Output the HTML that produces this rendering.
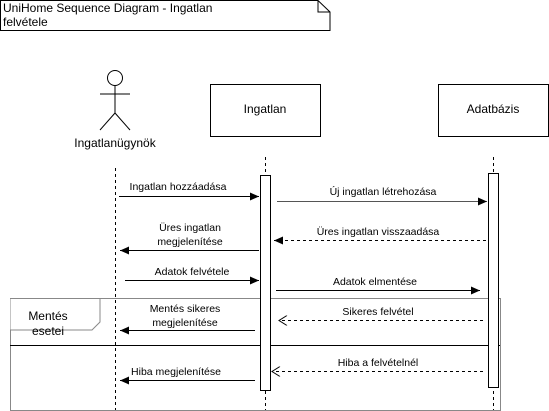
<!DOCTYPE html>
<html><head><meta charset="utf-8"><style>
html,body{margin:0;padding:0;background:#fff;}
svg{display:block;font-family:"Liberation Sans",Arial,sans-serif;}
</style></head><body>
<svg width="549" height="411" viewBox="0 0 549 411" xmlns="http://www.w3.org/2000/svg">
<defs>
<marker id="f" markerWidth="10" markerHeight="8" refX="9" refY="4" orient="auto" markerUnits="userSpaceOnUse"><path d="M0,0 L9,4 L0,8 Z" fill="#000"/></marker>
<marker id="o" markerWidth="10" markerHeight="10" refX="9" refY="5" orient="auto" markerUnits="userSpaceOnUse"><path d="M1,0 L9,5 L1,10" fill="none" stroke="#000"/></marker>
</defs>
<path d="M0.5,0.5 H318 L330,12 V30.5 H0.5 Z" fill="#fff" stroke="#000"/>
<path d="M318,0.5 V12 H330" fill="none" stroke="#000"/>
<text x="3" y="12" font-size="12">UniHome Sequence Diagram - Ingatlan</text>
<text x="3" y="26" font-size="12">felvétele</text>
<circle cx="115" cy="78" r="7.5" fill="#fff" stroke="#000"/>
<line x1="115" y1="86" x2="115" y2="113" stroke="#000"/>
<line x1="100" y1="94" x2="130" y2="94" stroke="#000"/>
<line x1="115" y1="113" x2="100" y2="130" stroke="#000"/>
<line x1="115" y1="113" x2="130" y2="130" stroke="#000"/>
<text x="115" y="147" font-size="12" text-anchor="middle">Ingatlanügynök</text>
<rect x="210.5" y="84.5" width="110" height="52" fill="#fff" stroke="#000"/>
<text x="265" y="113" font-size="12" text-anchor="middle">Ingatlan</text>
<rect x="438.5" y="84.5" width="110" height="52" fill="#fff" stroke="#000"/>
<text x="493" y="113" font-size="12" text-anchor="middle">Adatbázis</text>
<g stroke="#000" stroke-dasharray="3,3">
<line x1="115.5" y1="168" x2="115.5" y2="411"/>
<line x1="265.5" y1="157" x2="265.5" y2="411"/>
<line x1="493.5" y1="157" x2="493.5" y2="411"/>
</g>
<rect x="10.5" y="298.5" width="490" height="112" fill="none" stroke="#888"/>
<path d="M10.5,298.5 H100 V322 L92,330 H10.5" fill="#fff" stroke="#888"/>
<line x1="10" y1="345.5" x2="500" y2="345.5" stroke="#000"/>
<text x="48" y="320" font-size="12" text-anchor="middle">Mentés</text>
<text x="48" y="335" font-size="12" text-anchor="middle">esetei</text>
<rect x="260.5" y="175.5" width="10" height="215" fill="#fff" stroke="#000"/>
<rect x="488.5" y="173.5" width="10" height="214" fill="#fff" stroke="#000"/>
<g font-size="10.5" text-anchor="middle" stroke="none" fill="#000">
<text x="178" y="190">Ingatlan hozzáadása</text>
<text x="383" y="195">Új ingatlan létrehozása</text>
<text x="190" y="231">Üres ingatlan</text>
<text x="190" y="245">megjelenítése</text>
<text x="378" y="235">Üres ingatlan visszaadása</text>
<text x="192" y="275">Adatok felvétele</text>
<text x="375" y="285">Adatok elmentése</text>
<text x="185" y="312">Mentés sikeres</text>
<text x="185" y="326">megjelenítése</text>
<text x="378" y="315">Sikeres felvétel</text>
<text x="378" y="366">Hiba a felvételnél</text>
<text x="176" y="375">Hiba megjelenítése</text>
</g>
<g stroke="#000" fill="none">
<line x1="119" y1="196.5" x2="259" y2="196.5" marker-end="url(#f)"/>
<line x1="277" y1="201.5" x2="487" y2="201.5" marker-end="url(#f)" stroke="#555"/>
<line x1="259" y1="250.5" x2="120" y2="250.5" marker-end="url(#f)"/>
<line x1="486" y1="240.5" x2="274" y2="240.5" marker-end="url(#f)" stroke-dasharray="3,3"/>
<line x1="125" y1="280.5" x2="259" y2="280.5" marker-end="url(#f)"/>
<line x1="276" y1="290.5" x2="480" y2="290.5" marker-end="url(#f)"/>
<line x1="255" y1="330.5" x2="120" y2="330.5" marker-end="url(#f)"/>
<line x1="483" y1="320.5" x2="279" y2="320.5" marker-end="url(#o)" stroke-dasharray="3,3"/>
<line x1="483" y1="371.5" x2="272" y2="371.5" marker-end="url(#o)" stroke-dasharray="3,3"/>
<line x1="255" y1="380.5" x2="120" y2="380.5" marker-end="url(#f)"/>
</g>
</svg>
</body></html>
